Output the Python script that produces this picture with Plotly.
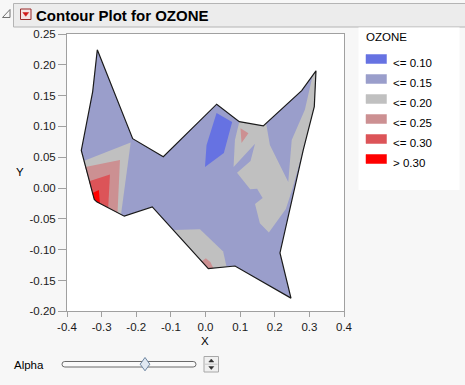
import plotly.graph_objects as go

W, H = 465, 385

# ---------------- data ----------------
level_labels = ["<= 0.10", "<= 0.15", "<= 0.20", "<= 0.25", "<= 0.30", "> 0.30"]
level_colors = ["rgb(102,114,226)", "rgb(154,158,203)", "rgb(192,192,192)",
                "rgb(204,144,146)", "rgb(220,84,88)", "rgb(255,0,0)"]

x_tick_vals = [-0.4, -0.3, -0.2, -0.1, 0.0, 0.1, 0.2, 0.3, 0.4]
x_tick_text = ["-0.4", "-0.3", "-0.2", "-0.1", "0.0", "0.1", "0.2", "0.3", "0.4"]
y_tick_vals = [-0.20, -0.15, -0.10, -0.05, 0.00, 0.05, 0.10, 0.15, 0.20, 0.25]
y_tick_text = ["-0.20", "-0.15", "-0.10", "-0.05", "0.00", "0.05", "0.10", "0.15", "0.20", "0.25"]

# outer hull of the data region (filled with the "<= 0.15" level)
hull_x = [-0.3125, -0.2103, -0.1219, 0.0323, 0.0976, 0.1669, 0.2778, 0.3191, 0.3142, 0.2824,
          0.2151, 0.2469, 0.0852, 0.0081, -0.1537, -0.2345, -0.3142, -0.3212, -0.3587, -0.3258]
hull_y = [0.2245, 0.0801, 0.0509, 0.1361, 0.1078, 0.1008, 0.1582, 0.1903, 0.1322, 0.0618,
          -0.1053, -0.1786, -0.1265, -0.1307, -0.0305, -0.0456, -0.0224, -0.0185, 0.061, 0.1566]

# left lobe contour bands
left_020_x = [-0.352, -0.216, -0.244, -0.3142, -0.3212]
left_020_y = [0.044, 0.074, -0.043, -0.0224, -0.0185]
left_025_x = [-0.347, -0.247, -0.254, -0.3142, -0.3212]
left_025_y = [0.034, 0.0455, -0.040, -0.0224, -0.0185]
left_030_x = [-0.336, -0.276, -0.281, -0.3142, -0.3212]
left_030_y = [0.011, 0.022, -0.032, -0.0224, -0.0185]
left_gt_x = [-0.326, -0.308, -0.305, -0.3142, -0.3212]
left_gt_y = [-0.008, -0.003, -0.025, -0.0224, -0.0185]

# middle / right area
mid_010_x = [0.032, 0.077, 0.053, -0.0015, 0.003]
mid_010_y = [0.122, 0.107, 0.057, 0.034, 0.070]
mid_020_x = [0.0976, 0.1669, 0.175, 0.186, 0.215, 0.239, 0.249, 0.287, 0.310, 0.3191, 0.3142,
             0.2824, 0.270, 0.250, 0.232, 0.183, 0.157, 0.143, 0.165, 0.149, 0.129, 0.091,
             0.130, 0.143, 0.081, 0.085]
mid_020_y = [0.1078, 0.1008, 0.105, 0.070, 0.037, 0.010, 0.078, 0.127, 0.184, 0.1903, 0.1322,
             0.0618, 0.037, -0.003, -0.034, -0.072, -0.057, -0.026, -0.016, -0.001, -0.002, 0.025,
             0.044, 0.072, 0.034, 0.078]
mid_025_x = [0.101, 0.124, 0.104]
mid_025_y = [0.097, 0.089, 0.073]

# lower edge
low_020_x = [-0.092, -0.016, 0.051, 0.061, 0.0081]
low_020_y = [-0.068, -0.067, -0.103, -0.128, -0.1307]
low_025_x = [-0.012, 0.001, 0.014, 0.023, 0.0081]
low_025_y = [-0.119, -0.114, -0.120, -0.130, -0.1307]

regions = [
    (1, hull_x, hull_y),
    (2, left_020_x, left_020_y),
    (3, left_025_x, left_025_y),
    (4, left_030_x, left_030_y),
    (5, left_gt_x, left_gt_y),
    (2, mid_020_x, mid_020_y),
    (0, mid_010_x, mid_010_y),
    (3, mid_025_x, mid_025_y),
    (2, low_020_x, low_020_y),
    (3, low_025_x, low_025_y),
]

# ---------------- figure ----------------
fig = go.Figure()
for lvl, xs, ys in regions:
    fig.add_trace(go.Scatter(x=xs + [xs[0]], y=ys + [ys[0]], mode="lines", fill="toself",
                             fillcolor=level_colors[lvl], line=dict(width=0),
                             hoverinfo="skip", showlegend=False))
fig.add_trace(go.Scatter(x=hull_x + [hull_x[0]], y=hull_y + [hull_y[0]], mode="lines",
                         line=dict(color="#1a1a1a", width=1.2), hoverinfo="skip", showlegend=False))


def fx(p):
    return p / W


def fy(p):
    return 1 - p / H


def pt(x, y):
    return f"{fx(x):.5f},{fy(y):.5f}"


def poly(pts):
    return "M " + " L ".join(pt(*p) for p in pts) + " Z"


FONT = "Liberation Sans, Arial, sans-serif"
shapes = []
annotations = []

# title bar
shapes.append(dict(type="rect", xref="paper", yref="paper", x0=fx(13.5), x1=fx(470), y0=fy(27), y1=fy(3.5),
                   fillcolor="#ECECEC", line=dict(color="#B4B4B4", width=1)))
# disclosure triangle
shapes.append(dict(type="path", xref="paper", yref="paper",
                   path=poly([(10, 9.5), (10, 17.5), (2.5, 17.5)]),
                   fillcolor="rgba(0,0,0,0)", line=dict(color="#707070", width=1)))
# red menu icon
shapes.append(dict(type="rect", xref="paper", yref="paper", x0=fx(20.5), x1=fx(31), y0=fy(19.5), y1=fy(9),
                   fillcolor="#F4E4E4", line=dict(color="#9A2A2A", width=1)))
shapes.append(dict(type="path", xref="paper", yref="paper",
                   path=poly([(22.8, 12.5), (28.7, 12.5), (25.75, 16.3)]),
                   fillcolor="#D01818", line=dict(color="#D01818", width=0.5)))
annotations.append(dict(xref="paper", yref="paper", x=fx(33.5), y=fy(15.5), xanchor="left", yanchor="middle",
                        text="<b>Contour Plot for OZONE</b>", showarrow=False,
                        font=dict(family=FONT, size=15, color="#000000")))

# legend box
shapes.append(dict(type="rect", xref="paper", yref="paper", x0=fx(358.5), x1=fx(459.5), y0=fy(190), y1=fy(27.5),
                   fillcolor="#FFFFFF", line=dict(width=0)))
annotations.append(dict(xref="paper", yref="paper", x=fx(363.5), y=fy(37), xanchor="left", yanchor="middle",
                        text="OZONE", showarrow=False, font=dict(family=FONT, size=11.5, color="#000000")))
for i, (lab, col) in enumerate(zip(level_labels, level_colors)):
    top = 54.5 + 20 * i
    shapes.append(dict(type="rect", xref="paper", yref="paper", x0=fx(366), x1=fx(386.5),
                       y0=fy(top + 9), y1=fy(top), fillcolor=col, line=dict(color=col, width=0.5)))
    annotations.append(dict(xref="paper", yref="paper", x=fx(390.5), y=fy(top + 8.5), xanchor="left",
                            yanchor="middle", text=lab, showarrow=False,
                            font=dict(family=FONT, size=11.5, color="#000000")))

# axis titles
annotations.append(dict(xref="paper", yref="paper", x=fx(205), y=fy(341), xanchor="center", yanchor="middle",
                        text="X", showarrow=False, font=dict(family=FONT, size=11.5, color="#000000")))
annotations.append(dict(xref="paper", yref="paper", x=fx(20), y=fy(172), xanchor="center", yanchor="middle",
                        text="Y", showarrow=False, font=dict(family=FONT, size=11.5, color="#000000")))

# Alpha slider
annotations.append(dict(xref="paper", yref="paper", x=fx(11.5), y=fy(365), xanchor="left", yanchor="middle",
                        text="Alpha", showarrow=False, font=dict(family=FONT, size=11.5, color="#000000")))
track = ("M " + pt(64.8, 361.5) + " L " + pt(193.2, 361.5) + " Q " + pt(196, 361.5) + " " + pt(196, 364.25)
         + " Q " + pt(196, 367) + " " + pt(193.2, 367) + " L " + pt(64.8, 367) + " Q " + pt(62, 367) + " "
         + pt(62, 364.25) + " Q " + pt(62, 361.5) + " " + pt(64.8, 361.5) + " Z")
shapes.append(dict(type="path", xref="paper", yref="paper", path=track,
                   fillcolor="#FAFAFA", line=dict(color="#6A6A6A", width=1)))
shapes.append(dict(type="path", xref="paper", yref="paper",
                   path=poly([(145, 357.5), (149.8, 364.2), (145, 370.8), (140.2, 364.2)]),
                   fillcolor="#E0E8F2", line=dict(color="#6E86A2", width=1)))
shapes.append(dict(type="rect", xref="paper", yref="paper", x0=fx(204), x1=fx(218.5), y0=fy(372), y1=fy(356.5),
                   fillcolor="#F0F0F0", line=dict(color="#A8A8A8", width=1)))
shapes.append(dict(type="line", xref="paper", yref="paper", x0=fx(205), x1=fx(217.5), y0=fy(364.2), y1=fy(364.2),
                   line=dict(color="#C8C8C8", width=1)))
shapes.append(dict(type="path", xref="paper", yref="paper",
                   path=poly([(208.8, 362), (213.8, 362), (211.3, 359)]),
                   fillcolor="#303030", line=dict(color="#303030", width=0.5)))
shapes.append(dict(type="path", xref="paper", yref="paper",
                   path=poly([(208.8, 366.5), (213.8, 366.5), (211.3, 369.5)]),
                   fillcolor="#303030", line=dict(color="#303030", width=0.5)))

axis_common = dict(showgrid=False, zeroline=False, showline=True, mirror=True, linecolor="#A0A0A0",
                   linewidth=1, ticks="outside", tickcolor="#A0A0A0", tickwidth=1,
                   tickfont=dict(family=FONT, size=11.5, color="#1a1a1a"), fixedrange=True,
                   automargin=False)

fig.update_layout(
    width=W, height=H, autosize=False,
    margin=dict(l=0, r=0, t=0, b=0, pad=0),
    paper_bgcolor="#F7F7F7", plot_bgcolor="#FFFFFF",
    showlegend=False,
    xaxis=dict(domain=[fx(67), fx(344)], range=[-0.4, 0.4], tickvals=x_tick_vals, ticktext=x_tick_text,
               ticklen=5, **axis_common),
    yaxis=dict(domain=[fy(311.3), fy(34)], range=[-0.2, 0.25], tickvals=y_tick_vals, ticktext=y_tick_text,
               ticklen=8, **axis_common),
    shapes=shapes,
    annotations=annotations,
)

fig.write_html(
    "out.html",
    config={"displayModeBar": False, "staticPlot": True},
    post_script="document.body.style.margin='0';document.body.style.padding='0';"
                "document.documentElement.style.overflow='hidden';document.body.style.overflow='hidden';",
)
